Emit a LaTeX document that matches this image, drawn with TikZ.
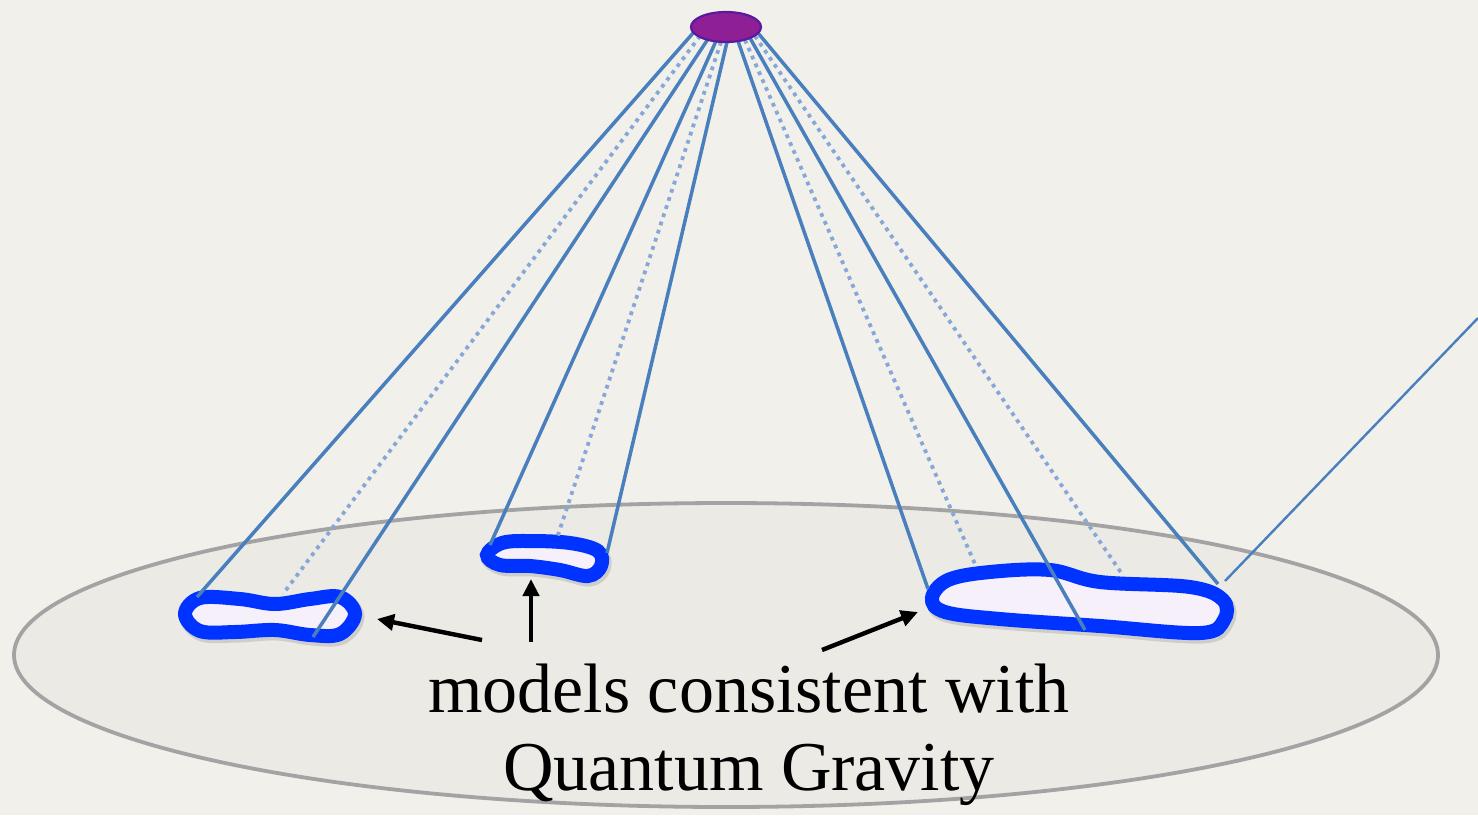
\documentclass[tikz,border=0pt]{standalone}
\usepackage{fontspec}
\setmainfont{Liberation Serif}
\usetikzlibrary{shapes.geometric,arrows.meta}
\definecolor{bg}{HTML}{F2F0EB}
\definecolor{plane}{HTML}{EBEAE5}
\definecolor{planeedge}{HTML}{A3A3A3}
\definecolor{ray}{HTML}{4A7FBE}
\definecolor{raydot}{HTML}{86A8D8}
\definecolor{blobedge}{HTML}{0033FF}
\definecolor{blobfill}{HTML}{F5F0FA}
\definecolor{dotfill}{HTML}{8E1F94}
\definecolor{dotedge}{HTML}{5A1AA0}
\tikzset{
  solidray/.style={draw=ray, line width=3.5pt},
  dotray/.style={draw=raydot, line width=3.8pt, dash pattern=on 3.8pt off 4.8pt},
  blob/.style={draw=blobedge, fill=blobfill, line width=14pt},
  blobshadow/.style={draw=black, draw opacity=0.12, line width=15pt},
  pointer/.style={draw=black, line width=4.4pt, -{Triangle[length=17pt,width=16pt]}},
  caption/.style={font=\fontsize{70}{78}\selectfont, align=center, text=black}
}
\begin{document}
\begin{tikzpicture}[x=1pt,y=-1pt]
\fill[bg] (0,0) rectangle (1478,815);
\useasboundingbox (0,0) rectangle (1478,815);
% plane
\draw[planeedge, fill=plane, line width=3.8pt] (726,655) ellipse [x radius=712, y radius=152];
% blob outlines
\def\blobA{(185,614) (200,598) (240,599) (275,604) (310,599) (340,597) (355,614) (340,634) (310,635) (275,630) (235,632) (200,631)}
\def\blobB{(487,555) (502,543) (530,541) (570,543) (598,551) (601,566) (588,576) (560,570) (530,566) (500,565)}
\def\blobC{(932,598) (948,580) (990,572) (1050,570) (1100,582) (1190,587) (1223,600) (1224,620) (1200,633) (1100,626) (1000,619) (945,612)}
\begin{scope}[shift={(2,3)}]
\draw[blobshadow] plot[smooth cycle, tension=0.6] coordinates {\blobA};
\draw[blobshadow] plot[smooth cycle, tension=0.6] coordinates {\blobB};
\draw[blobshadow] plot[smooth cycle, tension=0.6] coordinates {\blobC};
\end{scope}
\draw[blob] plot[smooth cycle, tension=0.6] coordinates {\blobA};
\draw[blob] plot[smooth cycle, tension=0.6] coordinates {\blobB};
\draw[blob] plot[smooth cycle, tension=0.6] coordinates {\blobC};
% ray coordinates
\coordinate (s1) at (694,32);  \coordinate (e1) at (197,597);
\coordinate (s2) at (700,36);  \coordinate (e2) at (283,594);
\coordinate (s3) at (708,39);  \coordinate (e3) at (313,637);
\coordinate (s4) at (716,41);  \coordinate (e4) at (490,545);
\coordinate (s5) at (721,42);  \coordinate (e5) at (557,538);
\coordinate (s6) at (727,42);  \coordinate (e6) at (607,553);
\coordinate (s7) at (738,41);  \coordinate (e7) at (928,589);
\coordinate (s8) at (745,40);  \coordinate (e8) at (975,564);
\coordinate (s9) at (750,38);  \coordinate (e9) at (1085,630);
\coordinate (s10) at (755,36); \coordinate (e10) at (1122,574);
\coordinate (s11) at (758,33); \coordinate (e11) at (1218,584);
\coordinate (x1) at (1225,581); \coordinate (x2) at (1478,318);
\draw[solidray] (s1) -- (e1);
\draw[dotray] (s2) -- (e2);
\draw[solidray] (s3) -- (e3);
\draw[solidray] (s4) -- (e4);
\draw[dotray] (s5) -- (e5);
\draw[solidray] (s6) -- (e6);
\draw[solidray] (s7) -- (e7);
\draw[dotray] (s8) -- (e8);
\draw[solidray] (s9) -- (e9);
\draw[dotray] (s10) -- (e10);
\draw[solidray] (s11) -- (e11);
\draw[ray, line width=2.4pt] (x1) -- (x2);
% top point
\node[ellipse, draw=dotedge, fill=dotfill, line width=2.2pt, minimum width=70pt, minimum height=30pt, inner sep=0pt] (apex) at (726,27) {};
% arrows
\coordinate (a1s) at (482,640); \coordinate (a1e) at (377,619);
\coordinate (a2s) at (531,642); \coordinate (a2e) at (531,579);
\coordinate (a3s) at (822,650); \coordinate (a3e) at (918,612);
\draw[pointer] (a1s) -- (a1e);
\draw[pointer] (a2s) -- (a2e);
\draw[pointer] (a3s) -- (a3e);
% caption
\node[caption, anchor=base] (cap) at (749,790) {models consistent with\\Quantum Gravity};
\end{tikzpicture}
\end{document}
